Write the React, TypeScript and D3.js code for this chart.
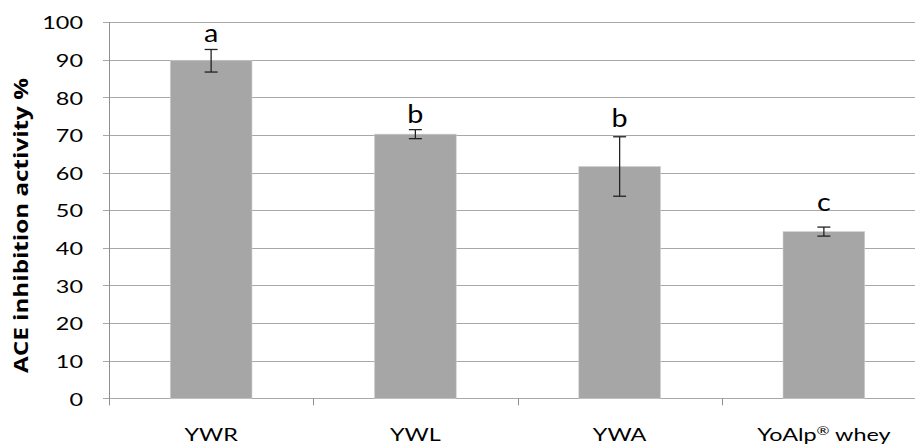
import React from "react";
import * as d3 from "d3";

const categories = ["YWR", "YWL", "YWA", "YoAlp® whey"];
const means = [89.7, 70.2, 61.6, 44.3];
const errors = [3.0, 1.2, 7.9, 1.2];
const letters = ["a", "b", "b", "c"];
const letterValues = [94.7, 73.2, 72.1, 49.8];
const yTicks = [0, 10, 20, 30, 40, 50, 60, 70, 80, 90, 100];
const yTitle = "ACE inhibition activity %";

const W = 915;
const H = 446;
const left = 109;
const right = 926;
const top = 22;
const bottom = 398.3;
const SX = 1.3;
const FONT = "Lato, 'Open Sans', sans-serif";

function renderLabel(c: string) {
  const idx = c.indexOf("®");
  if (idx < 0) return c;
  return (
    <>
      {c.slice(0, idx)}
      <tspan fontSize={12} dy={-6}>®</tspan>
      <tspan dy={6}>{c.slice(idx + 1)}</tspan>
    </>
  );
}

export default function App() {
  const x = d3.scaleBand<string>().domain(categories).range([left, right]).paddingInner(0.6).paddingOuter(0.3);
  const y = d3.scaleLinear().domain([0, 100]).range([bottom, top]);
  const step = x.step();
  const boundaries = d3.range(categories.length + 1).map((i) => left + i * step);

  return (
    <svg width={W} height={H} style={{ position: "absolute", left: 0, top: 0, background: "#fff" }}>
      {yTicks.map((t) => (
        <g key={t}>
          <line x1={left - 6} x2={right} y1={Math.round(y(t)) + 0.5} y2={Math.round(y(t)) + 0.5} stroke="#a8a8a8" strokeWidth={1} />
          <text
            transform={`translate(${83},${y(t)}) scale(${SX},1)`}
            textAnchor="end"
            dominantBaseline="central"
            fontFamily={FONT}
            fontSize={18}
            fill="#000"
          >
            {t}
          </text>
        </g>
      ))}
      <line x1={left + 0.5} x2={left + 0.5} y1={top} y2={bottom + 7} stroke="#8f8f8f" strokeWidth={1} />
      {boundaries.map((b, i) => (
        <line key={i} x1={Math.round(b) + 0.5} x2={Math.round(b) + 0.5} y1={bottom} y2={bottom + 7} stroke="#8f8f8f" strokeWidth={1} />
      ))}
      {categories.map((c, i) => {
        const x0 = x(c)!;
        const cx = x0 + x.bandwidth() / 2;
        const hi = y(means[i] + errors[i]);
        const lo = y(means[i] - errors[i]);
        return (
          <g key={c}>
            <rect x={x0} y={y(means[i])} width={x.bandwidth()} height={bottom - y(means[i])} fill="#a6a6a6" stroke="#d0d0d0" strokeWidth={0.6} />
            <line x1={cx} x2={cx} y1={hi} y2={lo} stroke="#222" strokeWidth={1.3} />
            <line x1={cx - 6.5} x2={cx + 6.5} y1={hi} y2={hi} stroke="#222" strokeWidth={1.3} />
            <line x1={cx - 6.5} x2={cx + 6.5} y1={lo} y2={lo} stroke="#222" strokeWidth={1.3} />
            <text
              transform={`translate(${cx},${y(letterValues[i])}) scale(1.15,1)`}
              textAnchor="middle"
              fontFamily={FONT}
              fontSize={25}
              fill="#000"
            >
              {letters[i]}
            </text>
            <text
              transform={`translate(${cx},${440.5}) scale(${SX},1)`}
              textAnchor="middle"
              fontFamily={FONT}
              fontSize={18}
              fill="#000"
            >
              {renderLabel(c)}
            </text>
          </g>
        );
      })}
      <text
        transform={`translate(${28},${225.5}) scale(1.05,1) rotate(-90)`}
        textAnchor="middle"
        fontFamily="'Open Sans', sans-serif"
        fontWeight={700}
        fontSize={18.5}
        textLength={295}
        lengthAdjust="spacingAndGlyphs"
        fill="#000"
      >
        {yTitle}
      </text>
    </svg>
  );
}
